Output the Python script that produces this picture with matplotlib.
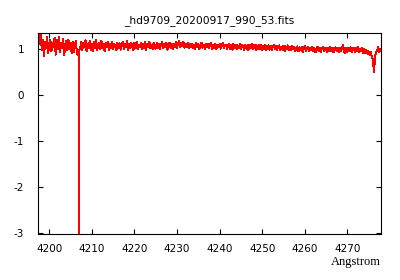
import numpy as np
import matplotlib
matplotlib.use("Agg")
import matplotlib.pyplot as plt

plt.rcParams['axes.unicode_minus'] = False

title = "_hd9709_20200917_990_53.fits"
xlabel = "Angstrom"

# wavelength grid of the spectrum (Angstrom)
wave_start = 4197.5
wave_step = 0.25

# flux values, 16 per row (4 A per row)
flux = [
    1.30, 1.12, 1.33, 0.98, 1.21, 0.84, 1.15, 1.02, 1.26, 0.91, 1.10, 1.21, 0.95, 1.14, 1.04, 1.24,
    0.88, 1.19, 1.00, 1.27, 0.93, 1.14, 1.02, 1.22, 0.86, 1.11, 1.17, 0.97, 1.20, 1.01, 1.13, 0.92,
    1.15, 0.94, 1.10, 1.18, 0.90, 0.88, 0.98, 1.00, 1.16, 0.98, 1.14, 1.04, 1.19, 0.96, 1.12, 1.02,
    1.17, 0.99, 1.11, 0.95, 1.15, 1.03, 1.20, 0.97, 1.10, 1.14, 1.00, 1.18, 1.02, 1.12, 0.96, 1.13,
    1.04, 1.15, 0.98, 1.11, 1.02, 1.16, 1.00, 1.12, 1.05, 0.97, 1.14, 1.03, 1.13, 0.99, 1.10, 1.15,
    1.01, 1.12, 1.04, 1.17, 0.99, 1.11, 1.02, 1.14, 1.05, 0.98, 1.13, 1.03, 1.16, 1.00, 1.10, 1.04,
    1.14, 1.01, 1.11, 1.03, 1.15, 0.99, 1.12, 1.04, 1.16, 1.02, 1.10, 1.00, 1.13, 1.05, 1.01, 1.14,
    1.03, 1.12, 1.00, 1.10, 1.15, 1.02, 1.11, 1.04, 1.13, 0.99, 1.10, 1.14, 1.03, 1.11, 1.01, 1.12,
    1.05, 1.15, 1.02, 1.13, 1.17, 1.04, 1.14, 1.06, 1.16, 1.03, 1.12, 1.05, 1.14, 1.02, 1.11, 1.04,
    1.12, 1.02, 1.10, 1.01, 1.13, 1.04, 1.11, 1.00, 1.09, 1.14, 1.03, 1.10, 1.01, 1.12, 1.04, 1.11,
    1.02, 1.10, 1.13, 1.01, 1.09, 1.03, 1.12, 1.00, 1.10, 1.04, 1.11, 1.01, 1.09, 1.13, 1.02, 1.08,
    1.10, 1.00, 1.08, 1.12, 1.01, 1.09, 0.99, 1.11, 1.03, 1.10, 1.00, 1.08, 1.02, 1.12, 1.01, 1.09,
    1.07, 0.99, 1.10, 1.01, 1.08, 0.98, 1.09, 1.02, 1.11, 1.00, 1.07, 1.09, 0.99, 1.08, 1.01, 1.10,
    1.00, 1.08, 0.97, 1.07, 1.01, 1.09, 0.98, 1.06, 1.08, 0.99, 1.07, 0.97, 1.06, 1.09, 1.00, 1.07,
    0.98, 1.06, 1.08, 0.97, 1.05, 0.99, 1.07, 0.96, 1.06, 1.00, 1.08, 0.98, 1.05, 0.97, 1.07, 1.00,
    1.05, 0.96, 1.03, 1.06, 0.95, 1.04, 0.97, 1.05, 0.94, 1.03, 1.07, 0.96, 1.02, 1.05, 0.95, 1.03,
    0.97, 1.04, 0.95, 1.03, 0.93, 1.02, 1.05, 0.96, 1.03, 0.94, 1.02, 1.04, 0.95, 1.01, 1.03, 0.94,
    1.02, 0.95, 1.04, 0.96, 1.03, 0.93, 1.01, 1.04, 0.95, 1.02, 0.94, 1.03, 0.96, 1.02, 1.08, 0.95,
    0.91, 1.02, 0.94, 1.03, 0.96, 1.04, 0.93, 1.01, 1.03, 0.94, 1.02, 0.95, 1.04, 0.93, 1.01, 0.95,
    1.02, 0.92, 1.00, 0.91, 0.97, 0.89, 0.95, 0.86, 0.94, 0.83, 0.78, 0.50, 0.84, 0.93, 0.97, 1.05,
    0.94, 1.00,
]

# single bad pixel that drops far below the plot
bad_wave = 4207.0
bad_flux = -3.2

xticks = [4200, 4210, 4220, 4230, 4240, 4250, 4260, 4270]
yticks = [-3, -2, -1, 0, 1]

wave = wave_start + wave_step * np.arange(len(flux))
flux = np.array(flux)
i = int(round((bad_wave - wave_start) / wave_step))
wave = np.insert(wave, i + 1, [bad_wave, bad_wave])
flux = np.insert(flux, i + 1, [bad_flux, flux[i]])

fig = plt.figure(figsize=(4, 2.8), dpi=100)
ax = fig.add_axes([0.095, 0.164, 0.8575, 0.718])

ax.plot(wave, flux, color="#ff0000", lw=0.72, antialiased=False)

ax.set_xlim(4197.35, 4277.9)
ax.set_ylim(-3.03, 1.35)
ax.set_xticks(xticks)
ax.set_yticks(yticks)
ax.tick_params(direction="in", length=3.5, width=0.8, top=True, right=True,
               labelsize=7.5)
ax.tick_params(axis="y", pad=10)
ax.tick_params(axis="x", pad=7)
for s in ax.spines.values():
    s.set_linewidth(0.8)

ax.set_title(title, fontsize=7.7, pad=7)
ax.set_xlabel(xlabel, loc="right", family="Liberation Serif", fontsize=9, labelpad=1.5)

fig.savefig("out.png", dpi=100)
